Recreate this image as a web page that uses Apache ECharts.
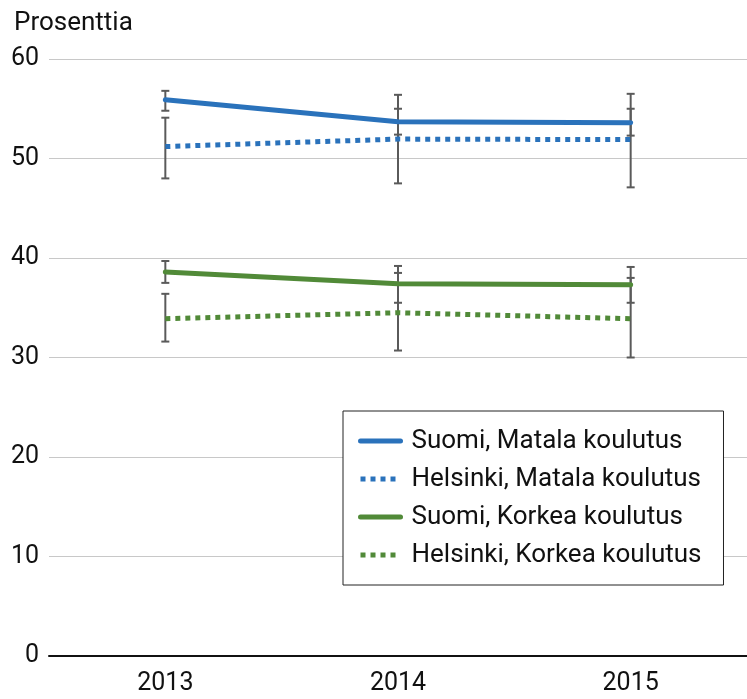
<!DOCTYPE html>
<html>
<head>
<meta charset="utf-8">
<script src="https://cdn.jsdelivr.net/npm/echarts@6/dist/echarts.min.js"></script>
<style>
html,body{margin:0;padding:0;background:#fff;}
#chart{width:747px;height:699px;}
</style>
</head>
<body>
<div id="chart"></div>
<script>
var years = ['2013', '2014', '2015'];
var suomiMatala = [55.9, 53.7, 53.6];
var suomiMatalaLow = [54.8, 52.4, 52.3];
var suomiMatalaHigh = [56.8, 55.0, 55.0];
var helsinkiMatala = [51.2, 51.95, 51.9];
var helsinkiMatalaLow = [48.0, 47.5, 47.1];
var helsinkiMatalaHigh = [54.1, 56.4, 56.5];
var suomiKorkea = [38.6, 37.4, 37.3];
var suomiKorkeaLow = [37.5, 35.5, 35.5];
var suomiKorkeaHigh = [39.7, 39.2, 39.1];
var helsinkiKorkea = [33.9, 34.5, 33.9];
var helsinkiKorkeaLow = [31.6, 30.7, 30.0];
var helsinkiKorkeaHigh = [36.4, 38.5, 38.0];
var yTicks = [0, 10, 20, 30, 40, 50, 60];

var BLUE = '#2a72bb';
var GREEN = '#518a38';
var FONT = 'Roboto';
var FS = 25;

var errorData = [];
[[suomiMatalaLow, suomiMatalaHigh], [helsinkiMatalaLow, helsinkiMatalaHigh],
 [suomiKorkeaLow, suomiKorkeaHigh], [helsinkiKorkeaLow, helsinkiKorkeaHigh]].forEach(function (p) {
  for (var i = 0; i < years.length; i++) errorData.push([i, p[0][i], p[1][i]]);
});

function renderError(params, api) {
  var x = api.value(0);
  var lo = api.coord([x, api.value(1)]);
  var hi = api.coord([x, api.value(2)]);
  var hw = 4;
  var st = { stroke: '#5a5a5a', lineWidth: 2 };
  return {
    type: 'group',
    children: [
      { type: 'line', shape: { x1: lo[0], y1: lo[1], x2: hi[0], y2: hi[1] }, style: st },
      { type: 'line', shape: { x1: lo[0] - hw, y1: lo[1], x2: lo[0] + hw, y2: lo[1] }, style: st },
      { type: 'line', shape: { x1: hi[0] - hw, y1: hi[1], x2: hi[0] + hw, y2: hi[1] }, style: st }
    ]
  };
}

function lineSeries(name, data, color, dotted) {
  return {
    name: name, type: 'line', data: data, symbol: 'none', z: 3,
    itemStyle: { color: color },
    lineStyle: { color: color, width: 5, type: dotted ? [5, 5] : 'solid', cap: dotted ? 'butt' : 'round' },
    emphasis: { disabled: true }, animation: false
  };
}

var chart = echarts.init(document.getElementById('chart'));
chart.setOption({
  animation: false,
  title: {
    text: 'Prosenttia', left: 9, top: 5,
    textStyle: { fontFamily: FONT, fontSize: FS + 1, fontWeight: 'normal', color: '#111' }
  },
  grid: { left: 49, top: 59, width: 706, height: 597, containLabel: false },
  xAxis: {
    type: 'category', data: years, boundaryGap: true,
    axisLine: { lineStyle: { color: '#111', width: 2 } },
    axisTick: { show: false },
    axisLabel: { fontFamily: FONT, fontSize: FS, color: '#111', margin: 15 }
  },
  yAxis: {
    type: 'value', min: 0, max: 60, interval: 10,
    axisLine: { show: false }, axisTick: { show: false },
    splitLine: { lineStyle: { color: '#c8c8c8', width: 1 } },
    axisLabel: {
      fontFamily: FONT, fontSize: FS, color: '#111', margin: 10,
      formatter: function (v) { return yTicks.indexOf(v) >= 0 ? String(v) : ''; }
    }
  },
  legend: {
    orient: 'vertical', left: 343, top: 411,
    backgroundColor: '#fff', borderColor: '#222', borderWidth: 1, borderRadius: 0,
    padding: [17, 22, 17, 15],
    itemWidth: 40, itemHeight: 20, itemGap: 12,
    itemStyle: { opacity: 0 },
    lineStyle: { width: 5 },
    textStyle: { fontFamily: FONT, fontSize: 26, color: '#111', padding: [0, 0, 0, 6], height: 26, lineHeight: 26 },
    data: ['Suomi, Matala koulutus', 'Helsinki, Matala koulutus', 'Suomi, Korkea koulutus', 'Helsinki, Korkea koulutus']
  },
  series: [
    {
      type: 'custom', name: 'err', renderItem: renderError, data: errorData, z: 2,
      encode: { x: 0, y: [1, 2] }, silent: true
    },
    lineSeries('Suomi, Matala koulutus', suomiMatala, BLUE, false),
    lineSeries('Helsinki, Matala koulutus', helsinkiMatala, BLUE, true),
    lineSeries('Suomi, Korkea koulutus', suomiKorkea, GREEN, false),
    lineSeries('Helsinki, Korkea koulutus', helsinkiKorkea, GREEN, true)
  ]
});
</script>
</body>
</html>
